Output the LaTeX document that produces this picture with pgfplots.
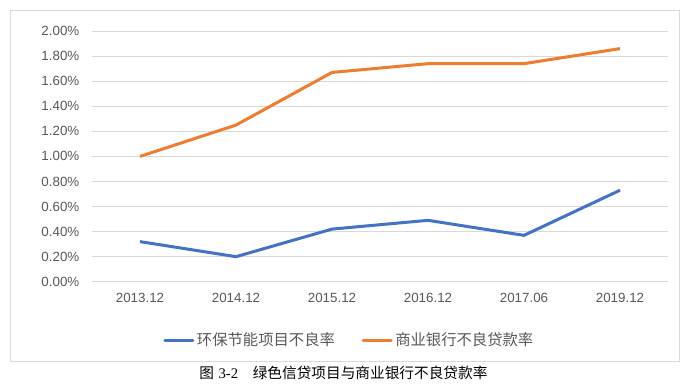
\documentclass[border=0pt]{standalone}
\usepackage{pgfplots}
\pgfplotsset{compat=1.18}
\usepackage{fontspec}
\setmainfont{Liberation Sans}
\newfontfamily\cjk{Noto Sans CJK SC}
\newfontfamily\serifnum{Liberation Serif}
\definecolor{blueS}{HTML}{4472C4}
\definecolor{orangeS}{HTML}{ED7D31}
\definecolor{gridc}{HTML}{D9D9D9}
\definecolor{txt}{HTML}{595959}
\begin{document}
\begin{tikzpicture}
\path[fill=white] (0,0) rectangle (519pt,292.5pt);
\draw[gridc, line width=0.75pt] (8pt,21.75pt) rectangle (509.25pt,284.25pt);
\begin{axis}[
  at={(69pt,81.2pt)}, anchor=south west,
  width=432pt, height=188pt, scale only axis,
  xmin=-0.5, xmax=5.5, ymin=0, ymax=2,
  xtick=data,
  xticklabels={2013.12,2014.12,2015.12,2016.12,2017.06,2019.12},
  ytick={0,0.2,0.4,0.6,0.8,1.0,1.2,1.4,1.6,1.8,2.0},
  yticklabels={0.00\%,0.20\%,0.40\%,0.60\%,0.80\%,1.00\%,1.20\%,1.40\%,1.60\%,1.80\%,2.00\%},
  axis line style={draw=none},
  major tick length=0pt,
  ymajorgrids, grid style={gridc, line width=0.75pt},
  tick label style={font=\fontsize{10pt}{12pt}\selectfont, text=txt},
  yticklabel style={xshift=-6pt},
  xticklabel style={yshift=-5pt},
  legend columns=2,
  legend style={at={(0.1233,-0.2325)}, anchor=west, draw=none, fill=none,
    font=\cjk\fontsize{11.5pt}{13pt}\selectfont, text=txt, inner sep=0pt,
    /tikz/every even column/.append style={column sep=18pt}},
  legend image code/.code={\draw[#1, line width=2.25pt, line cap=round] (0pt,0pt) -- (21pt,0pt);},
]
\addplot[blueS, line width=2.25pt, line join=round] coordinates {
 (0,0.32) (1,0.20) (2,0.42) (3,0.49) (4,0.37) (5,0.73)};
\addlegendentry{环保节能项目不良率}
\addplot[orangeS, line width=2.25pt, line join=round] coordinates {
 (0,1.00) (1,1.25) (2,1.67) (3,1.74) (4,1.74) (5,1.86)};
\addlegendentry{商业银行不良贷款率}
\end{axis}
\node[font=\cjk\fontsize{11pt}{13pt}\selectfont] at (257.6pt,12.75pt) {图\hspace{0.3em}{\serifnum 3-2}\hspace{1em}绿色信贷项目与商业银行不良贷款率};
\end{tikzpicture}
\end{document}
